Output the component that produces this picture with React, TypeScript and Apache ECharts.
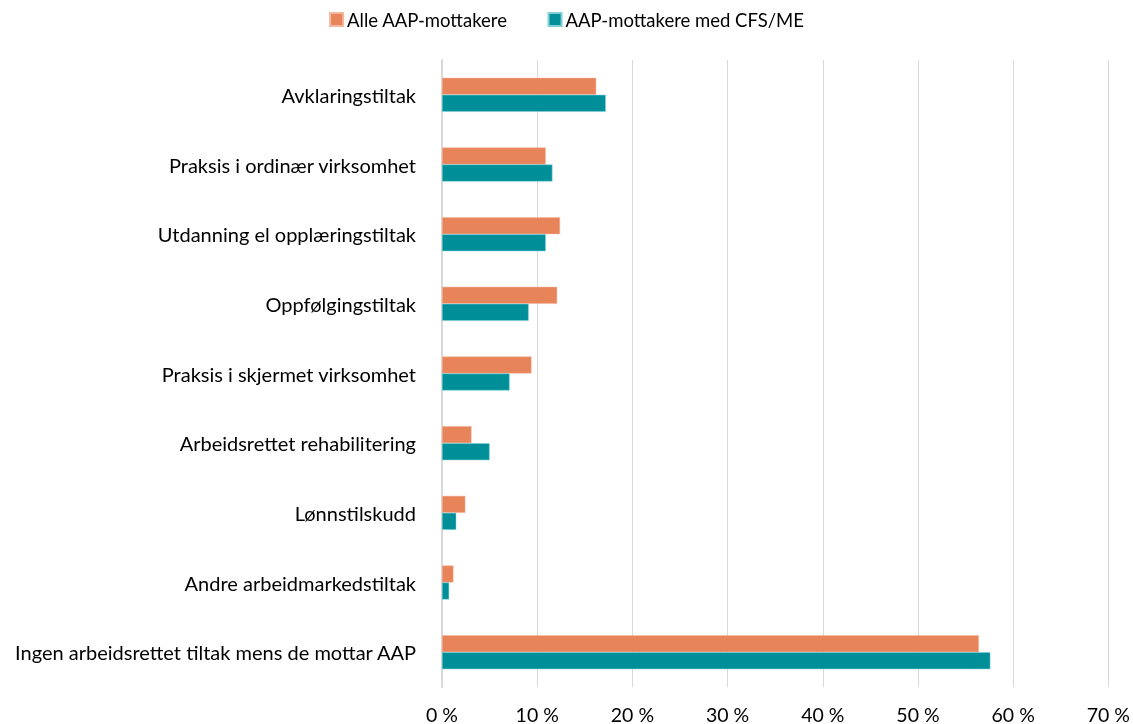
import React, { useEffect, useRef } from "react";
import * as echarts from "echarts";

const categories = [
  "Avklaringstiltak",
  "Praksis i ordinær virksomhet",
  "Utdanning el opplæringstiltak",
  "Oppfølgingstiltak",
  "Praksis i skjermet virksomhet",
  "Arbeidsrettet rehabilitering",
  "Lønnstilskudd",
  "Andre arbeidmarkedstiltak",
  "Ingen arbeidsrettet tiltak mens de mottar AAP",
];
const alleAAP = [16.2, 10.9, 12.4, 12.1, 9.4, 3.1, 2.45, 1.2, 56.4];
const cfsME = [17.2, 11.6, 10.9, 9.1, 7.1, 5.0, 1.5, 0.75, 57.6];
const seriesNames = ["Alle AAP-mottakere", "AAP-mottakere med CFS/ME"];

const FONT = "Lato";

export default function App() {
  const ref = useRef<HTMLDivElement>(null);
  useEffect(() => {
    if (!ref.current) return;
    const chart = echarts.init(ref.current, null, { renderer: "svg" });
    chart.setOption({
      animation: false,
      textStyle: { fontFamily: FONT },
      legend: {
        top: 5,
        left: "center",
        itemWidth: 13,
        itemHeight: 13,
        itemGap: 40,
        icon: "rect",
        textStyle: { fontSize: 18.5, color: "#000", fontFamily: FONT, padding: [0, 0, 0, -1] },
        data: seriesNames,
      },
      grid: { left: 442, right: 18, top: 60, bottom: 34, containLabel: false },
      xAxis: {
        type: "value",
        min: 0,
        max: 70,
        interval: 10,
        axisLabel: {
          formatter: "{value} %",
          fontSize: 19.5,
          color: "#000",
          margin: 17,
          fontFamily: FONT,
        },
        splitLine: { lineStyle: { color: "#d9d9d9", width: 1 } },
        axisLine: { show: false },
        axisTick: { show: false },
      },
      yAxis: {
        type: "category",
        inverse: true,
        data: categories,
        axisLabel: { fontSize: 20, color: "#000", margin: 26, fontFamily: FONT },
        axisLine: { lineStyle: { color: "#d9d9d9", width: 2 } },
        axisTick: { show: false },
      },
      series: [
        {
          name: seriesNames[0],
          type: "bar",
          data: alleAAP,
          barWidth: 17,
          barGap: "0%",
          itemStyle: { color: "#E8845A", borderColor: "#F2B79E", borderWidth: 0.5 },
        },
        {
          name: seriesNames[1],
          type: "bar",
          data: cfsME,
          barWidth: 17,
          barGap: "0%",
          itemStyle: { color: "#008F99", borderColor: "#7FD0D6", borderWidth: 0.5 },
        },
      ],
    });
    return () => chart.dispose();
  }, []);
  return (
    <div
      ref={ref}
      style={{ position: "fixed", left: 0, top: 0, width: 1133, height: 724 }}
    />
  );
}
